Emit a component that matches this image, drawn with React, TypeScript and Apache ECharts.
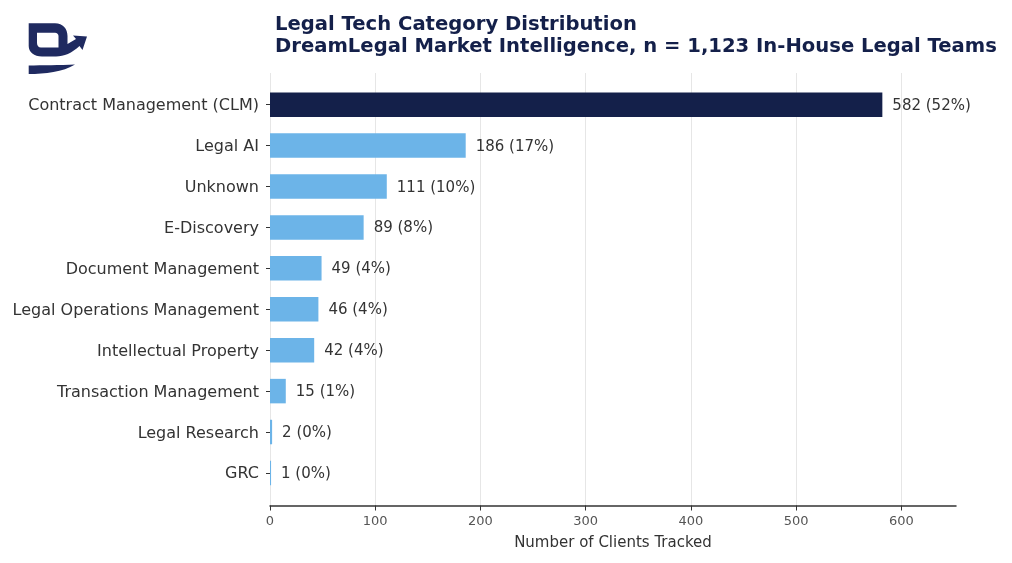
import { useEffect, useRef } from "react";
import * as echarts from "echarts";

const categories = [
  "Contract Management (CLM)",
  "Legal AI",
  "Unknown",
  "E-Discovery",
  "Document Management",
  "Legal Operations Management",
  "Intellectual Property",
  "Transaction Management",
  "Legal Research",
  "GRC",
];
const clients = [582, 186, 111, 89, 49, 46, 42, 15, 2, 1];
const percents = [52, 17, 10, 8, 4, 4, 4, 1, 0, 0];
const xTicks = [0, 100, 200, 300, 400, 500, 600];

const NAVY = "#14204a";
const BLUE = "#6cb4e8";
const FONT = "DejaVu Sans";

// rough outline of the DreamLegal mark (D with an arrow, plus a swoosh)
const LOGO_D =
  "M28.7 23.3 L55 23.3 C63 23.3 67.5 29 67.5 36 L67.5 44 L76 39 L73 35.5 L87 36.5 L82.5 50 L79.5 46 C72 53 64 56.5 56 56.5 L42 56.5 C34 56.5 28.7 52 28.7 46 Z " +
  "M37 32.7 L37 43 C37 45.5 38.5 47.5 41 47.5 L58.5 47.5 L58.5 36 C58.5 34 57 32.7 55 32.7 Z";
const LOGO_SWOOSH =
  "M28.7 65.5 L28.7 74 C45 74 63 72 75 64.5 C60 65.3 42 65.3 28.7 65.5 Z";

echarts.graphic.registerShape("logoD", echarts.graphic.extendPath(LOGO_D, {}));
echarts.graphic.registerShape(
  "logoSwoosh",
  echarts.graphic.extendPath(LOGO_SWOOSH, {})
);

const App = () => {
  const chartRef = useRef<HTMLDivElement>(null);

  useEffect(() => {
    if (!chartRef.current) return;
    const chart = echarts.init(chartRef.current, null, { renderer: "svg" });

    const left = 270;
    const right = 56;
    const xMax = 652;

    chart.setOption({
      animation: false,
      textStyle: { fontFamily: FONT },
      title: {
        text:
          "Legal Tech Category Distribution\nDreamLegal Market Intelligence, n = 1,123 In-House Legal Teams",
        left: 270,
        top: 7,
        textStyle: {
          fontFamily: FONT,
          fontSize: 19.6,
          fontWeight: "bold",
          color: NAVY,
          lineHeight: 22,
        },
      },
      graphic: [
        { type: "logoD", x: 0, y: 0, style: { fill: "#1f2a60" } },
        { type: "logoSwoosh", x: 0, y: 0, style: { fill: "#1f2a60" } },
      ],
      grid: [
        { left, right, top: 84.2, bottom: 69.6 },
        { left, right, top: 73, bottom: 57.5 },
      ],
      xAxis: [
        {
          gridIndex: 0,
          type: "value",
          min: 0,
          max: xMax,
          show: false,
        },
        {
          gridIndex: 1,
          type: "value",
          min: 0,
          max: xMax,
          interval: 100,
          axisLine: { show: true, lineStyle: { color: "#333", width: 1.5 } },
          axisTick: {
            show: true,
            length: 5,
            customValues: xTicks,
            lineStyle: { color: "#333" },
          },
          axisLabel: {
            fontFamily: FONT,
            fontSize: 13,
            color: "#555",
            margin: 8,
            customValues: xTicks,
          },
          splitLine: { show: true, lineStyle: { color: "#e6e6e6", width: 1 } },
          name: "Number of Clients Tracked",
          nameLocation: "middle",
          nameGap: 29,
          nameTextStyle: { fontFamily: FONT, fontSize: 15, color: "#333" },
        },
      ],
      yAxis: [
        {
          gridIndex: 0,
          type: "category",
          data: categories,
          inverse: true,
          axisLine: { show: false },
          axisTick: {
            show: true,
            length: 4,
            alignWithLabel: true,
            lineStyle: { color: "#333" },
          },
          axisLabel: {
            fontFamily: FONT,
            fontSize: 16,
            color: "#333",
            margin: 11,
          },
        },
        { gridIndex: 1, type: "value", show: false },
      ],
      series: [
        {
          type: "bar",
          xAxisIndex: 0,
          yAxisIndex: 0,
          barWidth: 24.5,
          data: clients.map((v, i) => ({
            value: v,
            itemStyle: { color: i === 0 ? NAVY : BLUE },
          })),
          label: {
            show: true,
            position: "right",
            distance: 10,
            fontFamily: FONT,
            fontSize: 15,
            color: "#333",
            formatter: (p: any) => `${p.value} (${percents[p.dataIndex]}%)`,
          },
        },
      ],
    });

    return () => chart.dispose();
  }, []);

  return (
    <div
      ref={chartRef}
      style={{ position: "fixed", left: 0, top: 0, width: 1012, height: 563 }}
    />
  );
};

export default App;
